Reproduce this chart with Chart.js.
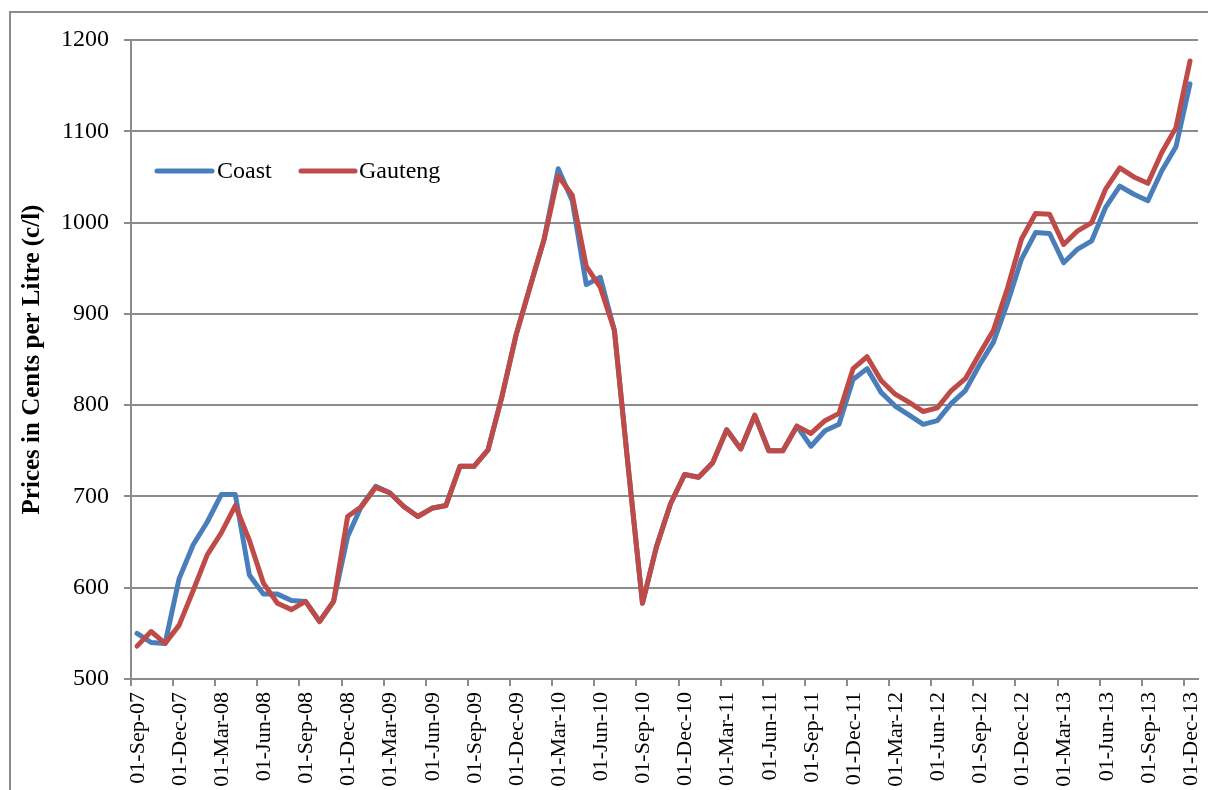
<!DOCTYPE html>
<html lang="en">
<head>
    <meta charset="UTF-8">
    <title>Fuel Prices Coast vs Gauteng</title>
    <script src="https://cdn.jsdelivr.net/npm/chart.js"></script>
    <style>
        body { margin: 0; background: #fff; }
        #wrap { width: 1208px; height: 790px; }
    </style>
</head>
<body>
    <div id="wrap"><canvas id="priceChart" width="1208" height="790"></canvas></div>

    <script>
        // monthly prices, Sep-07 .. Dec-13 (c/l)
        var coast = [550, 540, 539, 610, 647, 672, 702, 702, 614, 593,
            593, 586, 585, 563, 585, 656, 690, 711, 704, 689,
            678, 687, 690, 733, 733, 751, 810, 877, 930, 982,
            1059, 1024, 932, 940, 882, 730, 583, 645, 692, 724,
            721, 737, 773, 752, 789, 750, 750, 777, 755, 772,
            779, 828, 840, 814, 799, 789, 779, 783, 802, 816,
            844, 869, 912, 960, 989, 988, 956, 971, 980, 1017,
            1040, 1031, 1024, 1057, 1083, 1152];
        var gauteng = [536, 552, 539, 559, 597, 636, 660, 690, 652, 605,
            583, 576, 585, 563, 585, 678, 689, 710, 704, 689,
            678, 687, 690, 733, 733, 751, 810, 877, 930, 982,
            1051, 1030, 952, 929, 882, 730, 583, 645, 692, 724,
            721, 737, 773, 752, 789, 750, 750, 777, 769, 783,
            791, 840, 853, 827, 812, 803, 793, 797, 816, 829,
            856, 882, 928, 982, 1010, 1009, 976, 991, 1000, 1037,
            1060, 1050, 1043, 1077, 1104, 1177];
        var tickLabels = ['01-Sep-07', '01-Dec-07', '01-Mar-08', '01-Jun-08', '01-Sep-08', '01-Dec-08',
            '01-Mar-09', '01-Jun-09', '01-Sep-09', '01-Dec-09', '01-Mar-10', '01-Jun-10',
            '01-Sep-10', '01-Dec-10', '01-Mar-11', '01-Jun-11', '01-Sep-11', '01-Dec-11',
            '01-Mar-12', '01-Jun-12', '01-Sep-12', '01-Dec-12', '01-Mar-13', '01-Jun-13',
            '01-Sep-13', '01-Dec-13'];
        var seriesNames = ['Coast', 'Gauteng'];
        var seriesColors = ['#4A7EBB', '#BE4B48'];

        // x = months since 01-Sep-07; prices are observed mid-month
        var obsOffset = 0.43;
        function toPoints(arr) {
            return arr.map(function (v, i) { return { x: i + obsOffset, y: v }; });
        }

        var gridColor = '#8c8c8c';
        var serif = '"Liberation Serif", "Times New Roman", serif';

        var frame = {
            id: 'frame',
            beforeDraw: function (chart) {
                var c = chart.ctx;
                c.save();
                c.strokeStyle = '#8c8c8c';
                c.lineWidth = 2;
                c.strokeRect(10, 12, 1400, 1000);
                c.restore();
            }
        };

        // legend sits inside the plot, Excel style
        var innerLegend = {
            id: 'innerLegend',
            afterDraw: function (chart) {
                var c = chart.ctx;
                var items = [[157, 212, 217], [301, 355, 359]];
                var y = 171;
                c.save();
                c.font = '24px ' + serif;
                c.textBaseline = 'middle';
                c.lineCap = 'round';
                c.lineWidth = 5;
                chart.data.datasets.forEach(function (ds, k) {
                    var it = items[k];
                    c.strokeStyle = ds.borderColor;
                    c.beginPath();
                    c.moveTo(it[0], y);
                    c.lineTo(it[1], y);
                    c.stroke();
                    c.fillStyle = '#000';
                    c.fillText(ds.label, it[2], y + 1);
                });
                c.restore();
            }
        };

        var ctx = document.getElementById('priceChart').getContext('2d');
        var chart = new Chart(ctx, {
            type: 'line',
            data: {
                datasets: [
                    { label: seriesNames[0], data: toPoints(coast), borderColor: seriesColors[0], borderWidth: 5, order: 1 },
                    { label: seriesNames[1], data: toPoints(gauteng), borderColor: seriesColors[1], borderWidth: 5, order: 0 }
                ]
            },
            options: {
                responsive: false,
                animation: false,
                layout: { padding: { top: 40, right: 10, bottom: 0, left: 0 } },
                elements: {
                    point: { radius: 0 },
                    line: { tension: 0, borderJoinStyle: 'round', borderCapStyle: 'round' }
                },
                plugins: {
                    legend: { display: false },
                    tooltip: { enabled: false }
                },
                scales: {
                    x: {
                        type: 'linear',
                        min: 0,
                        max: 76,
                        afterFit: function (s) {
                            s.height = 111;
                            s.paddingLeft = 0;
                            s.paddingRight = 0;
                        },
                        afterBuildTicks: function (s) {
                            s.ticks = tickLabels.map(function (_, k) { return { value: k * 3 }; });
                        },
                        grid: { drawOnChartArea: false, color: gridColor, lineWidth: 2, tickLength: 7 },
                        border: { color: gridColor, width: 2 },
                        ticks: {
                            autoSkip: false,
                            minRotation: 90,
                            maxRotation: 90,
                            padding: 6,
                            labelOffset: 7,
                            color: '#000',
                            font: { family: serif, size: 22 },
                            callback: function (v) { return tickLabels[v / 3]; }
                        }
                    },
                    y: {
                        min: 500,
                        max: 1200,
                        afterFit: function (s) { s.width = 131; },
                        grid: { color: gridColor, lineWidth: 2, tickLength: 7 },
                        border: { color: gridColor, width: 2 },
                        ticks: {
                            stepSize: 100,
                            padding: 15,
                            color: '#000',
                            font: { family: serif, size: 24 },
                            callback: function (v) { return String(v); }
                        },
                        title: {
                            display: true,
                            text: 'Prices in Cents per Litre (c/l)',
                            color: '#000',
                            padding: { top: 18, bottom: 0 },
                            font: { family: serif, size: 25, weight: 'bold' }
                        }
                    }
                }
            },
            plugins: [frame, innerLegend]
        });
    </script>
</body>
</html>
